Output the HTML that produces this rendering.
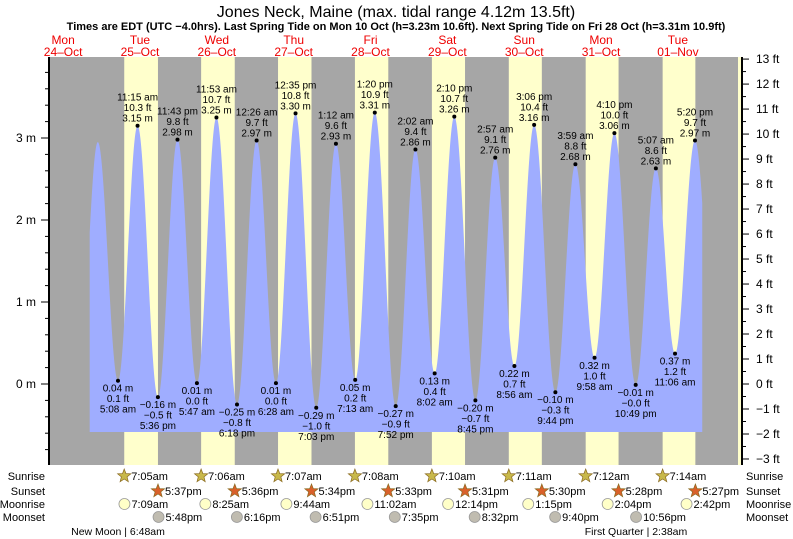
<!DOCTYPE html>
<html><head><meta charset="utf-8"><style>
body{margin:0;background:#fff}
svg{display:block;font-family:"Liberation Sans",Arial,sans-serif}
</style></head><body>
<svg id="chart" width="793" height="539" viewBox="0 0 793 539" xmlns="http://www.w3.org/2000/svg">
<text x="396" y="17" font-size="16" text-anchor="middle">Jones Neck, Maine (max. tidal range 4.12m 13.5ft)</text>
<text x="396" y="30" font-size="11" font-weight="bold" text-anchor="middle">Times are EDT (UTC −4.0hrs). Last Spring Tide on Mon 10 Oct (h=3.23m 10.6ft). Next Spring Tide on Fri 28 Oct (h=3.31m 10.9ft)</text>
<g id="bg"></g><g id="tide"></g><g id="axes"></g><g id="labels"></g><g id="astro"></g>
</svg>
<script>
const tideTimes=["24 16:40","24 22:50","25 05:08","25 11:15","25 17:36","25 23:43","26 05:47","26 11:53","26 18:18","27 00:26","27 06:28","27 12:35","27 19:03","28 01:12","28 07:13","28 13:20","28 19:52","29 02:02","29 08:02","29 14:10","29 20:45","30 02:57","30 08:56","30 15:06","30 21:44","31 03:59","31 09:58","31 16:10","31 22:49","32 05:07","32 11:06","32 17:20","32 23:35"];
const tideHeights=[-0.10,2.95,0.04,3.15,-0.16,2.98,0.01,3.25,-0.25,2.97,0.01,3.30,-0.29,2.93,0.05,3.31,-0.27,2.86,0.13,3.26,-0.20,2.76,0.22,3.16,-0.10,2.68,0.32,3.06,-0.01,2.63,0.37,2.97,0.35];
const labelled=[false,false,true,true,true,true,true,true,true,true,true,true,true,true,true,true,true,true,true,true,true,true,true,true,true,true,true,true,true,true,true,true,false];
const dayNames=["Mon","Tue","Wed","Thu","Fri","Sat","Sun","Mon","Tue"];
const dayDates=["24–Oct","25–Oct","26–Oct","27–Oct","28–Oct","29–Oct","30–Oct","31–Oct","01–Nov"];
const sunrise=["","7:05am","7:06am","7:07am","7:08am","7:10am","7:11am","7:12am","7:14am"];
const sunset=["","5:37pm","5:36pm","5:34pm","5:33pm","5:31pm","5:30pm","5:28pm","5:27pm"];
const moonrise=["","7:09am","8:25am","9:44am","11:02am","12:14pm","1:15pm","2:04pm","2:42pm"];
const moonset=["","5:48pm","6:16pm","6:51pm","7:35pm","8:32pm","9:40pm","10:56pm",""];
const meterTicks=[0,1,2,3];
const feetTicks=[-3,-2,-1,0,1,2,3,4,5,6,7,8,9,10,11,12,13];
const NS="http://www.w3.org/2000/svg";
const L=49,R=738,T=57,B=465,X0=24.7,PXH=3.202,Y0=384,PXM=82;
const xs=h=>X0+h*PXH, ym=m=>Y0-m*PXM;
function el(tag,a,parent,txt){const e=document.createElementNS(NS,tag);for(const k in a)e.setAttribute(k,a[k]);if(txt!==undefined)e.textContent=txt;document.getElementById(parent).appendChild(e);return e;}
function parseT(s){const [d,t]=s.split(" ");const [hh,mm]=t.split(":").map(Number);return (Number(d)-24)*24+hh+mm/60;}
function parse12(s){const m=s.match(/(\d+):(\d+)(am|pm)/);let h=Number(m[1])%12;if(m[3]=="pm")h+=12;return h+Number(m[2])/60;}
function fmt12(h){let hh=Math.floor(h),mm=Math.round((h-hh)*60);const ap=hh>=12?"pm":"am";hh=hh%12;if(hh==0)hh=12;return hh+":"+String(mm).padStart(2,"0")+" "+ap;}
const neg=s=>s.replace("-","−");
let r=el("rect",{x:L,y:T,width:R-L,height:B-T,fill:"#a6a6a6"},"bg");

for(let d=1;d<9;d++){const a=xs(d*24+parse12(sunrise[d])),b=xs(d*24+parse12(sunset[d]));
 const c=el("rect",{x:a,y:T,width:Math.min(b,R)-a,height:B-T,fill:"#ffffcc"},"bg");
 }
let ys=el("rect",{x:R,y:T,width:4,height:B-T,fill:"#ffffcc"},"bg");

for(let d=0;d<9;d++){const x=xs(d*24+12);
 const t1=el("text",{x:x,y:44,"font-size":12,fill:"#e00","text-anchor":"middle"},"labels",dayNames[d]);
 
 const t2=el("text",{x:x,y:56,"font-size":12,fill:"#e00","text-anchor":"middle"},"labels",dayDates[d]);
 }
const th=tideTimes.map(parseT);
const hStart=20.3,hEnd=211.6,base=-0.585;
function val(h){for(let i=0;i<th.length-1;i++){if(h>=th[i]&&h<=th[i+1]){const p=(h-th[i])/(th[i+1]-th[i]);return tideHeights[i]+(tideHeights[i+1]-tideHeights[i])*(1-Math.cos(Math.PI*p))/2;}}return 0;}
let d="M"+xs(hStart)+","+ym(base);
for(let h=hStart;h<=hEnd;h+=0.1)d+=" L"+xs(h).toFixed(2)+","+ym(val(h)).toFixed(2);
d+=" L"+xs(hEnd)+","+ym(val(hEnd))+" L"+xs(hEnd)+","+ym(base)+"Z";
const p=el("path",{d:d,fill:"#9fadff"},"tide");

for(let i=0;i<th.length;i++){if(!labelled[i])continue;
 const x=xs(th[i]),y=ym(tideHeights[i]),hi=tideHeights[i]>1;
 const dot=el("circle",{cx:x,cy:y,r:2,fill:"#000"},"labels");
 
 const mm=neg(tideHeights[i].toFixed(2))+" m",ft=neg((tideHeights[i]/0.3048).toFixed(1))+" ft",tm=fmt12(th[i]%24);
 const lines=hi?[tm,ft,mm]:[mm,ft,tm];
 const y0=hi?y-25:y+11;
 lines.forEach((s,k)=>{const t=el("text",{x:x,y:y0+k*10.5,"font-size":10,"text-anchor":"middle",fill:"#000"},"labels",s);
  });}
let ax=el("line",{x1:L,y1:T,x2:L,y2:B,stroke:"#000","stroke-width":2},"axes");

ax=el("line",{x1:R+4,y1:T,x2:R+4,y2:B,stroke:"#000","stroke-width":2},"axes");

for(let m=-0.8;m<=4.01;m+=0.2){const y=ym(m);if(y<T||y>B)continue;const major=Math.abs(m-Math.round(m))<0.01;
 const tk=el("line",{x1:L-(major?8:4),y1:y,x2:L,y2:y,stroke:"#000"},"axes");}
meterTicks.forEach(m=>{const t=el("text",{x:36,y:ym(m)+4,"font-size":12,"text-anchor":"end"},"axes",m+" m");
 });
feetTicks.forEach(f=>{const y=Y0-f*0.3048*PXM;
 const tk=el("line",{x1:R+4,y1:y,x2:R+11,y2:y,stroke:"#000"},"axes");
 const y2=y-0.5*0.3048*PXM;if(y2>T){const t2=el("line",{x1:R+4,y1:y2,x2:R+8,y2:y2,stroke:"#000"},"axes");}
 const t=el("text",{x:756,y:y+4,"font-size":12},"axes",neg(String(f))+" ft");
 });
const rows=[["Sunrise",476],["Sunset",491],["Moonrise",504],["Moonset",517]];
rows.forEach(([n,y])=>{const a=el("text",{x:45,y:y+4,"font-size":11,"text-anchor":"end"},"astro",n);
 
 const b=el("text",{x:746,y:y+4,"font-size":11},"astro",n);
 });
function star(cx,cy,fill){let pts=[];for(let k=0;k<10;k++){const rr=k%2?3:7,a=-Math.PI/2+k*Math.PI/5;pts.push((cx+rr*Math.cos(a)).toFixed(1)+","+(cy+rr*Math.sin(a)).toFixed(1));}
 return el("polygon",{points:pts.join(" "),fill:fill,stroke:"#8a6a20","stroke-width":0.7},"astro");}
function addRow(arr,y,kind){for(let d=1;d<9;d++){if(!arr[d])continue;const x=xs(d*24+parse12(arr[d]));let ic;
 if(kind=="sunrise")ic=star(x,y,"#c8b84a");else if(kind=="sunset")ic=star(x,y,"#d9602a");
 else ic=el("circle",{cx:x,cy:y,r:5.5,fill:kind=="moonrise"?"#ffffc8":"#c0bcb0",stroke:"#999","stroke-width":0.8},"astro");
 
 const t=el("text",{x:x+7,y:y+4,"font-size":11},"astro",arr[d]);
 }}
addRow(sunrise,476,"sunrise");addRow(sunset,491,"sunset");addRow(moonrise,504,"moonrise");addRow(moonset,517,"moonset");
let ph=el("text",{x:118,y:535,"font-size":10.5,"text-anchor":"middle"},"astro","New Moon | 6:48am");

ph=el("text",{x:636,y:535,"font-size":10.5,"text-anchor":"middle"},"astro","First Quarter | 2:38am");

</script>
</body></html>
